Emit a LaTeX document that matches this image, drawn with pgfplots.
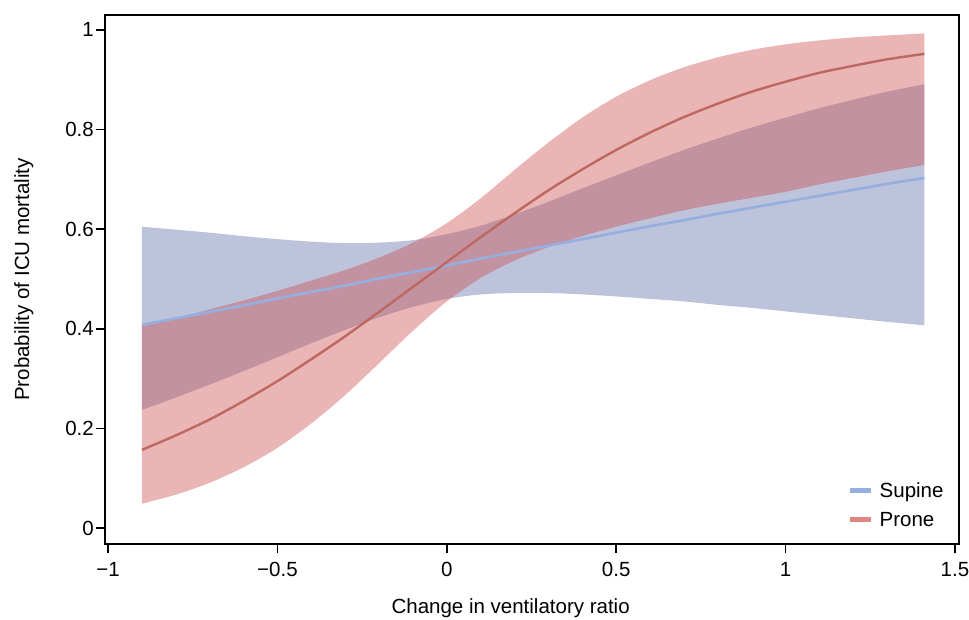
\documentclass[border=0pt]{standalone}
\usepackage{fontspec}
\setmainfont{Liberation Sans}
\usepackage{pgfplots}
\usepackage{pgfplotstable}
\pgfplotsset{compat=1.18}
\usepgfplotslibrary{fillbetween}

\definecolor{supband}{RGB}{190,195,220}
\definecolor{proband}{RGB}{202,79,79}
\definecolor{supline}{RGB}{148,175,224}
\definecolor{proline}{RGB}{190,104,96}
\definecolor{prolegend}{RGB}{222,134,130}

% predicted probability with 95% band
\pgfplotstableread{
x     sm    slo   shi   pm    plo   phi
-0.9  0.408 0.237 0.605 0.157 0.049 0.405
-0.8  0.421 0.262 0.599 0.186 0.067 0.421
-0.7  0.434 0.288 0.593 0.218 0.091 0.439
-0.6  0.447 0.315 0.586 0.255 0.122 0.457
-0.5  0.461 0.343 0.580 0.295 0.161 0.476
-0.4  0.474 0.371 0.575 0.339 0.210 0.497
-0.3  0.487 0.398 0.572 0.385 0.267 0.518
-0.2  0.501 0.423 0.573 0.434 0.331 0.543
-0.1  0.514 0.444 0.578 0.484 0.396 0.573
0     0.527 0.460 0.590 0.534 0.455 0.612
0.1   0.541 0.469 0.607 0.584 0.502 0.662
0.2   0.554 0.472 0.630 0.632 0.537 0.719
0.3   0.567 0.472 0.655 0.678 0.564 0.774
0.4   0.580 0.469 0.682 0.720 0.586 0.824
0.5   0.593 0.465 0.708 0.759 0.605 0.866
0.6   0.606 0.460 0.734 0.794 0.622 0.899
0.7   0.618 0.455 0.759 0.825 0.638 0.925
0.8   0.631 0.448 0.782 0.852 0.651 0.945
0.9   0.643 0.442 0.804 0.876 0.663 0.960
1.0   0.655 0.435 0.824 0.896 0.675 0.971
1.1   0.667 0.428 0.843 0.914 0.690 0.979
1.2   0.679 0.421 0.860 0.928 0.703 0.985
1.3   0.691 0.414 0.876 0.941 0.716 0.989
1.41  0.703 0.407 0.891 0.952 0.729 0.993
}\curves

\begin{document}
\begin{tikzpicture}[font=\fontsize{20.5}{24}\selectfont]
  \begin{axis}[
      name=main,
      scale only axis,
      width=854pt, height=529pt,
      xmin=-1.009, xmax=1.512,
      ymin=-0.032, ymax=1.030,
      axis line style={line width=1.6pt},
      tick pos=left,
      tick align=outside,
      major tick length=9pt,
      every tick/.style={black, line width=1.6pt},
      xtick={-1,-0.5,0,0.5,1,1.5},
      xticklabels={−1,−0.5,0,0.5,1,1.5},
      ytick={0,0.2,0.4,0.6,0.8,1},
      yticklabels={0,0.2,0.4,0.6,0.8,1},
      xticklabel style={inner sep=2pt, yshift=-7pt},
      yticklabel style={inner sep=2pt},
      xlabel={Change in ventilatory ratio},
      ylabel={Probability of ICU mortality},
      every axis x label/.style={at={(axis description cs:0.475,-0.132)}, anchor=base},
      every axis y label/.style={at={(axis description cs:-0.095,0.5)}, rotate=90, anchor=center},
      legend style={draw=none, fill=none, at={(axis description cs:0.87,0.027)},
        anchor=south west, inner sep=0pt, row sep=9pt,
        nodes={inner sep=2pt}, cells={anchor=west}},
      legend image code/.code={\draw[#1] (0pt,0pt) -- (21pt,0pt); \path (25pt,0pt);},
    ]
    \addplot[draw=none, smooth, name path=su, forget plot] table[x=x, y=shi] {\curves};
    \addplot[draw=none, smooth, name path=sl, forget plot] table[x=x, y=slo] {\curves};
    \addplot[draw=none, smooth, name path=pu, forget plot] table[x=x, y=phi] {\curves};
    \addplot[draw=none, smooth, name path=pl, forget plot] table[x=x, y=plo] {\curves};
    \addplot[fill=supband, draw=none, forget plot] fill between[of=su and sl];
    \addplot[fill=proband, fill opacity=0.42, draw=none, forget plot] fill between[of=pu and pl];

    \addplot[supline, line width=2.6pt, smooth, forget plot] table[x=x, y=sm] {\curves};
    \addplot[proline, line width=2.4pt, smooth, forget plot] table[x=x, y=pm] {\curves};

    \addlegendimage{supline, line width=4.5pt}
    \addlegendentry{Supine}
    \addlegendimage{prolegend, line width=4.5pt}
    \addlegendentry{Prone}
  \end{axis}
  \pgfresetboundingbox
  \path[use as bounding box] ([shift={(-105pt,-76pt)}]main.south west)
    rectangle ([shift={(10pt,15pt)}]main.north east);
\end{tikzpicture}
\end{document}
